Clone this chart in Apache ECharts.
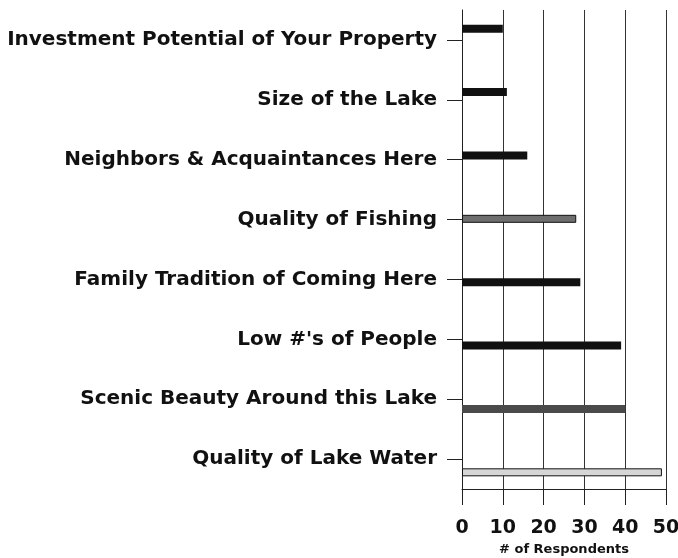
<!DOCTYPE html>
<html>
<head>
<meta charset="utf-8">
<script src="https://cdn.jsdelivr.net/npm/echarts@6/dist/echarts.min.js"></script>
<style>
  html, body { margin: 0; padding: 0; background: #fff; }
  #chart { width: 678px; height: 558px; }
</style>
</head>
<body>
<div id="chart"></div>
<script>
// reasons for owning property at the lake, top to bottom
const categories = [
  'Investment Potential of Your Property',
  'Size of the Lake',
  'Neighbors & Acquaintances Here',
  'Quality of Fishing',
  'Family Tradition of Coming Here',
  "Low #'s of People",
  'Scenic Beauty Around this Lake',
  'Quality of Lake Water'
]
const respondents = [10, 11, 16, 28, 29, 39, 40, 49]
const barColors = ['#111', '#111', '#111', '#6e6e6e', '#111', '#111', '#4a4a4a', '#d6d6d6']
const xTicks = [0, 10, 20, 30, 40, 50]

const chart = echarts.init(document.getElementById('chart'))

const font = 'DejaVu Sans, sans-serif'

chart.setOption({
  animation: false,
  grid: [
    { left: 462, right: 12, top: 10, bottom: 69, outerBoundsMode: 'none' },
    // bars sit on a slightly taller band than the labels
    { left: 462, right: 12, top: -3, bottom: 54, outerBoundsMode: 'none' }
  ],
  xAxis: [
    {
      gridIndex: 0,
      type: 'value',
      min: xTicks[0],
      max: xTicks[xTicks.length - 1],
      interval: 10,
      name: '# of Respondents',
      nameLocation: 'middle',
      nameGap: 46,
      nameTextStyle: { fontFamily: font, fontWeight: 'bold', fontSize: 13, color: '#111' },
      axisLine: { show: true, lineStyle: { color: '#222', width: 1 } },
      axisTick: { show: true, length: 16, lineStyle: { color: '#222' } },
      splitLine: { show: true, lineStyle: { color: '#333', width: 1 } },
      axisLabel: { margin: 30, fontFamily: font, fontWeight: 'bold', fontSize: 19, color: '#111' }
    },
    { gridIndex: 1, type: 'value', min: 0, max: 50, show: false }
  ],
  yAxis: [
    {
      gridIndex: 0,
      type: 'category',
      data: categories,
      inverse: true,
      axisLine: { show: true, lineStyle: { color: '#222' } },
      axisTick: { show: true, alignWithLabel: true, length: 15, lineStyle: { color: '#222' } },
      axisLabel: { margin: 25, fontFamily: font, fontWeight: 'bold', fontSize: 20, color: '#111' }
    },
    { gridIndex: 1, type: 'category', data: categories, inverse: true, show: false }
  ],
  series: [
    {
      type: 'bar',
      xAxisIndex: 1,
      yAxisIndex: 1,
      barWidth: 8,
      data: respondents.map((v, i) => ({
        value: v,
        itemStyle: { color: barColors[i], borderColor: '#111', borderWidth: i === 7 || i === 3 ? 1 : 0 }
      }))
    }
  ]
})
</script>
</body>
</html>
